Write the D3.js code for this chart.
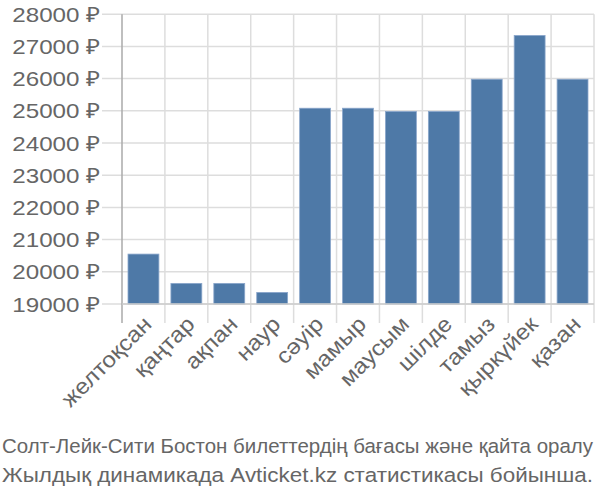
<!DOCTYPE html>
<html><head><meta charset="utf-8">
<script src="https://cdn.jsdelivr.net/npm/d3@7"></script>
<style>body{margin:0;background:#fff}svg{display:block}</style>
</head><body>
<script>
const categories = ["желтоқсан","қаңтар","ақпан","наур","сәуір","мамыр","маусым","шілде","тамыз","қыркүйек","қазан"];
const prices = [20550, 19640, 19640, 19360, 25080, 25080, 24980, 24980, 25980, 27340, 25980];
const yTicks = [19000,20000,21000,22000,23000,24000,25000,26000,27000,28000];
const titleLines = ["Солт-Лейк-Сити Бостон билеттердің бағасы және қайта оралу","Жылдық динамикада Avticket.kz статистикасы бойынша."];

const W=600,H=500;
const svg=d3.select("body").append("svg").attr("width",W).attr("height",H);
const font="'Liberation Sans', Arial, sans-serif";
function widen(k){
  return sel=>sel.each(function(){const L=this.getComputedTextLength();
    d3.select(this).attr("textLength",L*k).attr("lengthAdjust","spacingAndGlyphs");});
}
const x=d3.scaleBand().domain(categories).range([122,594]).paddingInner(0.28).paddingOuter(0.14);
const y=d3.scaleLinear().domain([19000,28000]).range([304,14.2]);

// horizontal grid + ticks
const gy=svg.append("g");
gy.selectAll("line").data(yTicks).join("line")
 .attr("x1",102).attr("x2",594).attr("y1",d=>y(d)).attr("y2",d=>y(d))
 .attr("stroke","#ddd").attr("stroke-width",1.5);
gy.selectAll("text").data(yTicks).join("text")
 .attr("x",100).attr("y",d=>y(d)).attr("dy","0.36em").attr("text-anchor","end")
 .attr("font-family",font).attr("font-size",21).attr("fill","#666")
 .text(d=>d+" ₽").call(widen(1.15));

// vertical grid at band boundaries
const step=x.step();
const bounds=d3.range(categories.length+1).map(i=>122+i*step);
svg.append("g").selectAll("line").data(bounds.slice(1)).join("line")
 .attr("x1",d=>d).attr("x2",d=>d).attr("y1",14.2).attr("y2",323)
 .attr("stroke","#ddd").attr("stroke-width",1.5);

// bars
svg.append("g").selectAll("rect").data(prices).join("rect")
 .attr("x",(d,i)=>x(categories[i])).attr("width",x.bandwidth())
 .attr("y",d=>y(d)).attr("height",d=>y(19000)-y(d))
 .attr("fill","#4e79a7").attr("stroke","#8aa6cb").attr("stroke-width",0.8);

// axes lines
svg.append("line").attr("x1",122).attr("x2",122).attr("y1",14.2).attr("y2",323).attr("stroke","#aaa").attr("stroke-width",1.5);
svg.append("line").attr("x1",122).attr("x2",594).attr("y1",304).attr("y2",304).attr("stroke","#ccc").attr("stroke-width",1.5);

// x labels
svg.append("g").selectAll("text").data(categories).join("text")
 .attr("transform",d=>`translate(${x(d)+x.bandwidth()/2+4},320) rotate(-45)`)
 .attr("text-anchor","end").attr("dy","0.36em")
 .attr("font-family",font).attr("font-size",22).attr("fill","#666")
 .text(d=>d).call(widen(1.1));

// caption
svg.append("g").selectAll("text").data(titleLines).join("text")
 .attr("x",2).attr("y",(d,i)=>453+i*29)
 .attr("font-family",font).attr("font-size",20.5).attr("fill","#666")
 .attr("textLength",591).attr("lengthAdjust","spacingAndGlyphs")
 .text(d=>d);
</script>
</body></html>
